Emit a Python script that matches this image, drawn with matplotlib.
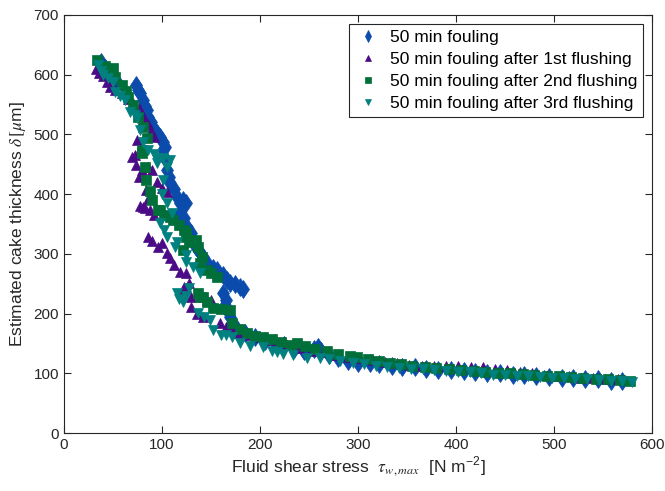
import matplotlib
matplotlib.use("Agg")
import matplotlib.pyplot as plt

plt.rcParams["font.family"] = ["Liberation Sans", "DejaVu Sans"]
plt.rcParams["mathtext.fontset"] = "stix"

# 50 min fouling (blue diamonds)
blue_x = [38, 42, 49, 54, 74, 76, 78, 81, 83, 85, 86, 89, 91, 95, 98, 101, 103, 101,
          104, 105, 107, 108, 112, 115, 118, 121, 125, 118, 122, 126, 130, 132, 135,
          138, 142, 146, 152, 156, 162, 166, 169, 175, 180, 183, 162, 165, 164, 166,
          169, 172, 177, 185,
          195, 205, 215, 225, 235, 245, 255, 259, 262, 270, 280, 290, 300, 312, 322,
          335, 345, 358, 370, 382, 395, 408, 420, 432, 445, 458, 470, 482, 495, 508,
          520, 532, 545, 558, 570]
blue_y = [622, 612, 600, 588, 583, 575, 569, 558, 548, 541, 529, 520, 511, 503, 496,
          487, 479, 474, 458, 440, 428, 418, 408, 396, 385, 390, 385, 368, 360, 345,
          335, 323, 312, 305, 295, 284, 276, 273, 265, 256, 252, 250, 245, 242, 235,
          223, 215, 206, 195, 184, 175, 168,
          160, 154, 151, 147, 141, 137, 140, 144, 137, 130, 125, 120, 118, 118, 116,
          113, 111, 110, 107, 106, 105, 104, 103, 101, 100, 98, 97, 96, 94, 93, 92,
          91, 90, 88, 87]

# after 1st flushing (purple triangles up)
purple_x = [33, 36, 40, 44, 47, 52, 59, 65, 70, 77, 80, 83, 86, 89, 92, 75, 72, 69,
            74, 77, 80, 86, 90, 95, 84, 86, 83, 88, 78, 81, 92, 100, 105, 86, 90, 96,
            100, 105, 108, 112, 118, 125, 128, 121, 123, 130, 130, 136, 142, 146, 150,
            159, 165, 172, 178,
            185, 195, 205, 215, 228, 240, 252, 265, 278, 290, 302, 315, 328, 340, 352,
            365, 378, 390, 402, 415, 428, 440, 452, 465, 478, 490, 502, 515, 528, 540,
            552, 565]
purple_y = [610, 603, 597, 588, 580, 575, 569, 560, 552, 544, 535, 524, 518, 505, 495,
            491, 466, 462, 449, 429, 440, 446, 440, 420, 407, 392, 377, 374, 380, 379,
            365, 410, 404, 328, 322, 312, 318, 301, 293, 282, 270, 268, 251, 240, 245,
            228, 211, 200, 194, 223, 222, 184, 178, 172, 168,
            165, 160, 156, 151, 147, 142, 138, 135, 131, 128, 126, 122, 119, 117, 114,
            113, 112, 112, 112, 111, 111, 108, 105, 103, 100, 98, 96, 95, 93, 92, 91,
            90]

# after 2nd flushing (green squares)
green_x = [34, 42, 50, 52, 59, 63, 65, 70, 76, 81, 85, 80, 80, 83, 84, 88, 90, 96,
           98, 102, 108, 111, 117, 123, 125, 128, 121, 125, 131, 135, 137, 139, 141,
           146, 150, 156, 137, 139, 142, 146, 152, 160, 169, 172, 180, 187,
           195, 203, 212, 222, 232, 238, 246, 256, 268, 280, 292, 299, 310, 322, 333,
           344, 355, 368, 380, 393, 405, 418, 430, 443, 455, 468, 480, 493, 505, 518,
           530, 543, 555, 568, 578]
green_y = [625, 615, 612, 596, 583, 572, 563, 549, 530, 513, 494, 474, 469, 446, 424,
           405, 390, 373, 373, 365, 362, 357, 348, 340, 335, 323, 306, 328, 320, 323,
           312, 284, 295, 273, 268, 261, 234, 228, 228, 219, 209, 207, 206, 184, 175,
           167,
           163, 161, 157, 153, 148, 151, 146, 141, 137, 133, 129, 127, 124, 121, 118,
           115, 113, 110, 109, 107, 105, 104, 103, 101, 100, 99, 98, 96, 95, 94, 92,
           91, 90, 89, 87]

# after 3rd flushing (teal triangles down)
teal_x = [35, 38, 40, 45, 50, 52, 57, 62, 67, 72, 75, 78, 81, 86, 92, 95, 101, 105,
          108, 95, 101, 100, 105, 110, 98, 102, 105, 113, 115, 125, 125, 132, 139,
          128, 121, 117, 115, 125, 137, 143, 149, 152, 160, 165, 172,
          180, 190, 203, 212, 217, 224, 234, 248, 261, 270, 282, 295, 306, 318, 330,
          342, 354, 366, 378, 390, 402, 414, 426, 438, 450, 462, 474, 486, 498, 510,
          522, 534, 546, 558, 570, 580]
teal_y = [616, 607, 600, 594, 588, 571, 565, 558, 538, 533, 528, 508, 487, 474, 468,
          461, 460, 446, 457, 452, 424, 400, 385, 368, 352, 340, 328, 312, 320, 298,
          286, 278, 268, 243, 219, 225, 235, 230, 201, 195, 189, 172, 165, 165, 161,
          151, 146, 144, 138, 136, 133, 130, 126, 126, 124, 121, 117, 115, 113, 111,
          109, 108, 107, 105, 104, 103, 102, 100, 98, 97, 96, 95, 94, 93, 92, 91, 90,
          89, 88, 87, 86]

labels = ["50 min fouling", "50 min fouling after 1st flushing",
          "50 min fouling after 2nd flushing", "50 min fouling after 3rd flushing"]

fig = plt.figure(figsize=(6.65, 4.91), dpi=100)
ax = fig.add_axes([0.0962, 0.118, 0.884, 0.8515])

ax.plot(blue_x, blue_y, "d", color="#0a4bab", markersize=9.5, mew=0.5, label=labels[0])
ax.plot(purple_x, purple_y, "^", color="#4b0a86", markersize=7.5, mew=0.5, label=labels[1])
ax.plot(green_x, green_y, "s", color="#006f3a", markersize=6.5, mew=0.5, label=labels[2])
ax.plot(teal_x, teal_y, "v", color="#00807f", markersize=7.5, mew=0.5, label=labels[3])

ax.set_xlim(0, 600)
ax.set_ylim(0, 700)
ax.set_xticks(range(0, 601, 100))
ax.set_yticks(range(0, 701, 100))
ax.tick_params(direction="in", top=True, right=True, length=5, labelsize=11,
               color="#262626", labelcolor="#262626")
for s in ax.spines.values():
    s.set_color("#262626")
    s.set_linewidth(0.8)

ax.set_xlabel(r"Fluid shear stress  $\tau_{w,max}$  [N m$^{\mathregular{-2}}$]",
              fontsize=12.5, color="#262626", labelpad=2)
ax.set_ylabel(r"Estimated cake thickness $\delta\,[\mu$m]", fontsize=12.5,
              color="#262626", labelpad=4)

leg = ax.legend(loc="upper right", fontsize=12.5, markerscale=0.6, handletextpad=0.5,
                borderpad=0.35, labelspacing=0.4, fancybox=False, framealpha=1,
                edgecolor="#262626", handlelength=1.5, borderaxespad=0.5)
leg.get_frame().set_linewidth(0.8)

fig.savefig("out.png", dpi=100)
